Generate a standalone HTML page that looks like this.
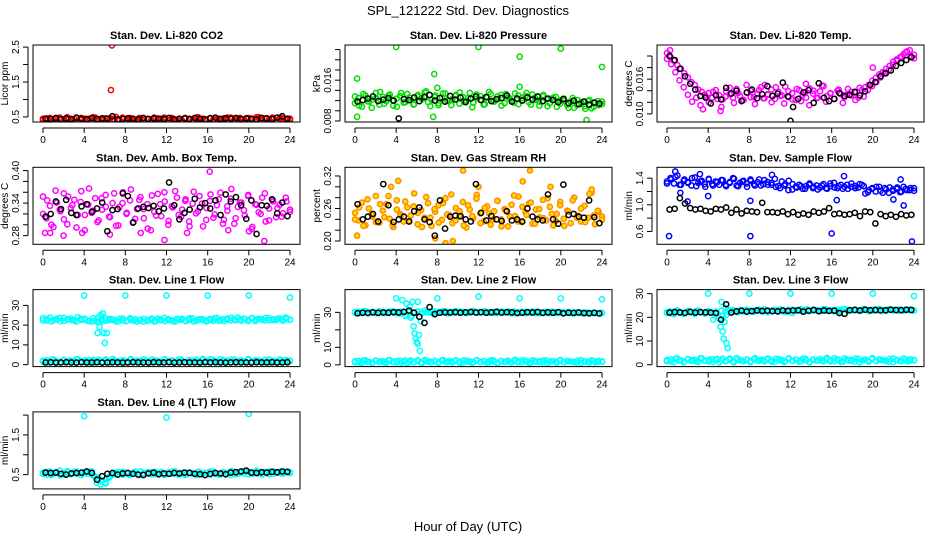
<!DOCTYPE html>
<html><head><meta charset="utf-8"><style>
html,body{margin:0;padding:0;background:#fff;}
svg{display:block;font-family:"Liberation Sans",Arial,sans-serif;}
</style></head><body>
<svg id="chart" width="936" height="540" viewBox="0 0 936 540" xmlns="http://www.w3.org/2000/svg">
<text x="468" y="15" text-anchor="middle" font-size="13">SPL_121222  Std. Dev. Diagnostics</text>
<text x="468" y="531" text-anchor="middle" font-size="13">Hour of Day (UTC)</text>
</svg>
<script>
// ---- data ----
const hourTicks = [0,4,8,12,16,20,24];
const co2Band = [0.45,0.40,0.47,0.42,0.38,0.46,0.43,0.49,0.41,0.44,0.39,0.47,0.42,0.45,0.40,0.48,0.43,0.41,0.46,0.39,0.44,0.50,0.42,0.45,0.38,0.47,0.43,0.40,0.46,0.42,0.44,0.39,0.48,0.41,0.45,0.43,0.40,0.47,0.42,0.44,0.39,0.46,0.43,0.41,0.48,0.42,0.45,0.40,0.47,0.43,0.44,0.39,0.46,0.42,0.48,0.41,0.45,0.43,0.40,0.47,0.44,0.42,0.49,0.41,0.45,0.43,0.48,0.40,0.46,0.44,0.42,0.45];
const co2Band2 = [0.41,0.46,0.38,0.44,0.48,0.40,0.43,0.37,0.47,0.42,0.45,0.39,0.49,0.41,0.44,0.38,0.46,0.43,0.40,0.48,0.42,0.45,0.37,0.47,0.41,0.44,0.39,0.46,0.43,0.48,0.40,0.45,0.42,0.38,0.47,0.44,0.41,0.49,0.43,0.39,0.46,0.42,0.45,0.40,0.48,0.44,0.41,0.47,0.38,0.45,0.43,0.49,0.40,0.46,0.42,0.44,0.39,0.47,0.43,0.41];
const co2Black = [0.45,0.44,0.47,0.43,0.46,0.44,0.48,0.45,0.43,0.47,0.44,0.46,0.45,0.52,0.43,0.44,0.46,0.45,0.43,0.47,0.44,0.46,0.45,0.44,0.47,0.43,0.45,0.46,0.44,0.47,0.45,0.43,0.46,0.48,0.44,0.46,0.45,0.47,0.44,0.46,0.45,0.43,0.47,0.46,0.44,0.48,0.52,0.45];
const co2Out = [[6.7,2.55],[6.6,1.27]];
const presBand = [0.0115,0.0125,0.0108,0.0130,0.0118,0.0122,0.0135,0.0112,0.0127,0.0119,0.0132,0.0110,0.0124,0.0129,0.0116,0.0133,0.0121,0.0113,0.0128,0.0125,0.0136,0.0117,0.0122,0.0130,0.0111,0.0126,0.0134,0.0119,0.0123,0.0131,0.0114,0.0127,0.0120,0.0135,0.0116,0.0124,0.0129,0.0112,0.0126,0.0133,0.0118,0.0122,0.0131,0.0115,0.0127,0.0120,0.0134,0.0113,0.0125,0.0129,0.0117,0.0132,0.0121,0.0110,0.0128,0.0123,0.0115,0.0126,0.0108,0.0120,0.0124,0.0112,0.0118,0.0106,0.0121,0.0114,0.0109,0.0119,0.0105,0.0116,0.0111,0.0118];
const presBand2 = [0.0128,0.0110,0.0133,0.0119,0.0106,0.0124,0.0137,0.0114,0.0130,0.0121,0.0108,0.0135,0.0117,0.0126,0.0112,0.0131,0.0123,0.0138,0.0109,0.0127,0.0115,0.0134,0.0120,0.0111,0.0129,0.0136,0.0118,0.0125,0.0107,0.0132,0.0122,0.0113,0.0137,0.0119,0.0128,0.0110,0.0133,0.0124,0.0116,0.0130,0.0121,0.0135,0.0112,0.0126,0.0118,0.0131,0.0109,0.0123,0.0127,0.0114,0.0120,0.0106,0.0125,0.0111,0.0117,0.0104,0.0121,0.0108,0.0119,0.0113];
const presBlack = [0.0118,0.0121,0.0124,0.0128,0.0119,0.0122,0.0125,0.0120,0.0085,0.0123,0.0121,0.0126,0.0119,0.0127,0.0131,0.0120,0.0125,0.0118,0.0129,0.0122,0.0126,0.0117,0.0124,0.0128,0.0121,0.0127,0.0119,0.0123,0.0125,0.0130,0.0118,0.0124,0.0120,0.0126,0.0122,0.0128,0.0119,0.0124,0.0121,0.0117,0.0123,0.0115,0.0120,0.0113,0.0118,0.0112,0.0116,0.0114];
const presOut = [[0.2,0.0163],[0.2,0.0088],[4,0.0225],[7.7,0.0172],[8,0.0145],[7.6,0.0088],[12,0.0225],[16,0.0206],[16,0.0147],[20,0.0222],[22.5,0.0082],[24,0.0186]];
const tempBand = [0.0205,0.0198,0.0192,0.0184,0.0178,0.0170,0.0163,0.0155,0.0150,0.0142,0.0138,0.0130,0.0136,0.0128,0.0141,0.0132,0.0125,0.0139,0.0134,0.0128,0.0143,0.0131,0.0124,0.0137,0.0140,0.0129,0.0135,0.0146,0.0127,0.0133,0.0142,0.0126,0.0138,0.0132,0.0147,0.0129,0.0136,0.0124,0.0141,0.0133,0.0128,0.0144,0.0135,0.0127,0.0139,0.0148,0.0131,0.0136,0.0126,0.0140,0.0134,0.0129,0.0143,0.0132,0.0137,0.0128,0.0141,0.0146,0.0150,0.0157,0.0162,0.0168,0.0172,0.0178,0.0183,0.0190,0.0194,0.0198,0.0203,0.0208,0.0200,0.0196];
const tempBand2 = [0.0195,0.0186,0.0172,0.0158,0.0146,0.0133,0.0121,0.0128,0.0115,0.0133,0.0120,0.0138,0.0126,0.0112,0.0130,0.0145,0.0119,0.0136,0.0124,0.0150,0.0129,0.0117,0.0141,0.0127,0.0134,0.0120,0.0146,0.0131,0.0118,0.0139,0.0125,0.0143,0.0122,0.0137,0.0115,0.0140,0.0128,0.0149,0.0121,0.0135,0.0126,0.0142,0.0119,0.0133,0.0138,0.0124,0.0145,0.0130,0.0141,0.0148,0.0155,0.0163,0.0171,0.0176,0.0185,0.0192,0.0199,0.0206,0.0210,0.0202];
const tempBlack = [0.0200,0.0193,0.0178,0.0165,0.0152,0.0142,0.0131,0.0128,0.0118,0.0132,0.0125,0.0145,0.0135,0.0140,0.0122,0.0137,0.0142,0.0127,0.0134,0.0148,0.0131,0.0135,0.0154,0.0130,0.0112,0.0126,0.0137,0.0141,0.0119,0.0153,0.0128,0.0122,0.0126,0.0136,0.0131,0.0133,0.0138,0.0132,0.0139,0.0150,0.0155,0.0165,0.0170,0.0175,0.0183,0.0188,0.0193,0.0198];
const tempOut = [[0.3,0.0210],[3.5,0.0108],[5.2,0.0105],[9.5,0.0150],[13.5,0.0152],[20,0.0180]];
const tempBlackOut = [[12,0.0088]];
const boxBand = [0.352,0.312,0.335,0.296,0.341,0.325,0.358,0.301,0.331,0.346,0.318,0.362,0.290,0.337,0.322,0.349,0.308,0.328,0.355,0.315,0.340,0.298,0.333,0.360,0.320,0.345,0.305,0.329,0.351,0.312,0.338,0.290,0.324,0.357,0.316,0.343,0.300,0.334,0.362,0.318,0.328,0.347,0.306,0.339,0.321,0.353,0.297,0.331,0.344,0.313,0.336,0.359,0.309,0.326,0.348,0.302,0.333,0.341,0.317,0.355,0.292,0.338,0.323,0.350,0.306,0.330,0.346,0.314,0.337,0.321,0.343,0.328];
const boxBand2 = [0.320,0.345,0.300,0.363,0.328,0.310,0.352,0.336,0.295,0.342,0.318,0.367,0.326,0.305,0.349,0.333,0.314,0.358,0.299,0.340,0.322,0.365,0.311,0.346,0.329,0.293,0.354,0.317,0.338,0.360,0.307,0.332,0.350,0.315,0.344,0.297,0.361,0.325,0.339,0.309,0.356,0.319,0.347,0.302,0.334,0.366,0.312,0.341,0.327,0.353,0.296,0.337,0.320,0.358,0.308,0.343,0.331,0.315,0.350,0.324];
const boxBlack = [0.315,0.320,0.343,0.329,0.346,0.322,0.318,0.334,0.338,0.324,0.330,0.341,0.288,0.327,0.329,0.358,0.353,0.304,0.330,0.333,0.331,0.335,0.325,0.330,0.378,0.336,0.310,0.322,0.328,0.348,0.332,0.340,0.330,0.345,0.318,0.356,0.343,0.351,0.336,0.311,0.345,0.283,0.336,0.335,0.347,0.321,0.341,0.316];
const boxOut = [[0.2,0.285],[0.7,0.285],[11.8,0.272],[16.2,0.398],[21.5,0.27],[14,0.285],[3.8,0.285],[9.5,0.285],[18,0.29],[6.5,0.282],[20,0.288],[2,0.28]];
const rhBand = [0.252,0.238,0.271,0.229,0.260,0.245,0.283,0.234,0.256,0.268,0.241,0.226,0.275,0.250,0.236,0.262,0.247,0.288,0.231,0.257,0.243,0.270,0.228,0.254,0.266,0.239,0.279,0.248,0.233,0.261,0.245,0.272,0.225,0.258,0.242,0.285,0.251,0.236,0.264,0.230,0.255,0.274,0.240,0.259,0.227,0.267,0.246,0.282,0.235,0.253,0.269,0.232,0.258,0.244,0.276,0.238,0.263,0.229,0.250,0.272,0.241,0.256,0.233,0.280,0.247,0.236,0.265,0.243,0.289,0.231,0.254,0.245];
const rhBand2 = [0.240,0.262,0.228,0.277,0.249,0.235,0.268,0.244,0.283,0.230,0.258,0.247,0.273,0.237,0.264,0.252,0.226,0.281,0.243,0.259,0.234,0.270,0.249,0.286,0.238,0.255,0.229,0.266,0.246,0.278,0.233,0.261,0.251,0.240,0.274,0.227,0.257,0.245,0.284,0.236,0.263,0.248,0.271,0.232,0.259,0.242,0.279,0.250,0.237,0.266,0.228,0.254,0.275,0.243,0.260,0.235,0.287,0.247,0.256,0.239];
const rhBlack = [0.268,0.240,0.245,0.250,0.236,0.305,0.266,0.235,0.240,0.245,0.236,0.255,0.262,0.240,0.235,0.210,0.275,0.223,0.245,0.247,0.246,0.240,0.236,0.305,0.252,0.238,0.246,0.240,0.237,0.255,0.238,0.240,0.236,0.260,0.245,0.240,0.238,0.286,0.240,0.232,0.304,0.248,0.250,0.245,0.243,0.275,0.244,0.233];
const rhOut = [[0.2,0.21],[4.2,0.311],[8.8,0.196],[10.5,0.33],[17,0.33],[16.3,0.31],[3.5,0.30],[23,0.295],[7.8,0.205],[19,0.30],[9.5,0.20],[12,0.30]];
const sampleBand = [1.35,1.40,1.32,1.44,1.30,1.38,1.34,1.29,1.41,1.33,1.36,1.27,1.39,1.31,1.35,1.30,1.37,1.28,1.34,1.40,1.29,1.33,1.36,1.27,1.38,1.31,1.34,1.29,1.37,1.30,1.33,1.39,1.28,1.35,1.31,1.36,1.23,1.27,1.30,1.24,1.28,1.32,1.25,1.29,1.26,1.31,1.24,1.28,1.33,1.25,1.30,1.27,1.24,1.32,1.28,1.26,1.30,1.17,1.22,1.25,1.20,1.27,1.18,1.23,1.26,1.21,1.24,1.19,1.27,1.22,1.25,1.21];
const sampleBand2 = [1.32,1.38,1.42,1.30,1.36,1.33,1.40,1.28,1.35,1.31,1.38,1.29,1.34,1.37,1.30,1.33,1.39,1.28,1.35,1.32,1.36,1.29,1.38,1.31,1.34,1.30,1.27,1.25,1.29,1.22,1.31,1.26,1.28,1.24,1.30,1.27,1.23,1.29,1.25,1.32,1.26,1.28,1.24,1.30,1.27,1.25,1.31,1.28,1.19,1.24,1.27,1.21,1.25,1.18,1.23,1.26,1.20,1.24,1.22,1.25];
const sampleBlack = [0.93,0.94,1.10,1.02,0.95,0.93,0.94,0.91,0.90,0.94,0.93,0.96,0.88,0.93,0.87,0.91,0.90,0.89,1.03,0.89,0.89,0.88,0.90,0.86,0.89,0.85,0.87,0.85,0.90,0.88,0.90,0.95,0.86,0.87,0.85,0.86,0.88,0.83,0.90,0.89,0.72,0.86,0.83,0.85,0.82,0.86,0.84,0.85];
const sampleOut = [[0.2,0.53],[0.8,1.5],[1.3,1.18],[2,1.05],[4,1.13],[8.1,0.53],[8.1,1.06],[16,0.57],[16.5,1.07],[23.8,0.45],[22.7,1.38],[23,0.99],[22,1.08],[10.2,1.45],[17.2,1.43],[3.2,1.46]];
const lowFlowBand = [1.5,2.2,1.1,2.6,1.8,1.3,2.4,1.6,2.0,1.2,2.7,1.7,1.4,2.3,1.9,1.0,2.5,1.6,2.1,1.3,2.8,1.8,1.5,2.2,1.1,2.4,1.7,2.0,1.4,2.6,1.8,1.2,2.3,1.9,1.5,2.7,1.6,2.1,1.3,2.5,1.8,1.0,2.2,1.7,2.4,1.4,2.9,1.9,1.5,2.3,1.2,2.6,1.8,2.0,1.4,2.5,1.7,2.1,1.3,2.8,1.6,2.2,1.9,1.5,2.4,1.1,2.0,1.7,2.6,1.4,2.3,1.8];
const lowFlowBand2 = [2.0,1.3,2.5,1.7,1.1,2.2,1.9,1.4,2.7,1.6,2.1,1.2,2.4,1.8,1.5,2.6,1.0,2.3,1.7,2.0,1.4,2.8,1.6,1.9,2.2,1.3,2.5,1.8,1.1,2.4,1.7,2.0,1.5,2.6,1.2,2.1,1.9,1.6,2.3,1.4,2.7,1.8,1.3,2.2,1.6,2.5,1.0,2.0,1.7,2.4,1.5,2.1,1.8,1.3,2.6,1.9,1.4,2.2,1.6,2.0];
const line1Band = [23.5,22.2,23.8,22.6,23.1,22.0,23.6,22.8,23.3,22.4,24.0,22.7,23.2,22.1,21.8,22.3,21.6,22.0,23.4,22.5,22.9,21.9,23.2,22.4,22.0,23.5,22.3,21.8,22.7,23.1,22.2,22.6,21.9,23.3,22.5,22.1,23.0,22.4,21.8,22.8,23.2,22.0,22.6,23.4,22.2,22.9,22.5,21.9,23.1,22.3,23.6,22.7,22.0,23.3,22.5,22.9,23.8,22.2,23.0,22.6,23.5,22.1,23.2,22.8,23.7,22.4,23.0,22.6,23.4,22.2,23.1,22.8];
const line1Band2 = [22.4,23.2,21.9,22.8,23.6,22.1,23.0,22.5,21.8,23.3,22.7,22.2,23.5,21.7,22.9,22.3,23.1,22.6,21.9,23.4,22.2,22.8,23.0,22.4,21.8,22.6,23.3,22.1,22.9,23.6,22.5,22.0,23.2,22.7,22.3,23.5,21.9,22.8,23.1,22.4,22.6,23.4,22.2,23.0,22.7,23.7,22.5,22.9,23.3,22.1,23.6,22.8,23.0,22.4,23.5,22.6,23.2,22.9,23.8,22.7];
const line1Black = [1.1,1.2,1.0,1.1,1.2,1.1,1.0,1.2,1.1,1.1,1.2,1.0,1.1,1.2,1.1,1.0,1.1,1.2,1.1,1.1,1.0,1.2,1.1,1.1,1.2,1.0,1.1,1.2,1.1,1.1,1.0,1.2,1.1,1.2,1.1,1.0,1.1,1.2,1.1,1.1,1.0,1.2,1.1,1.1,1.2,1.0,1.1,1.2];
const line1Out = [[4,35],[8,35],[12,35],[16,35],[20,35],[24,34],[5.3,16],[5.5,19],[5.6,25],[5.8,26],[5.9,16],[6.0,11],[6.2,16],[5.7,22],[5.4,24]];
const line2Band = [29.8,30.4,29.5,30.8,29.9,30.2,29.6,30.6,30.0,29.7,30.5,29.9,30.3,29.4,30.1,28.5,27.0,29.8,30.4,29.6,30.9,30.0,29.7,30.5,29.9,30.2,30.6,29.5,30.1,30.7,29.8,30.3,29.6,30.0,30.8,29.7,30.2,30.5,29.9,30.1,29.6,30.4,30.0,29.8,30.6,29.5,30.2,29.9,30.3,29.7,30.0,30.5,29.6,30.1,29.8,30.4,29.5,30.0,29.9,30.2,29.6,30.1,29.8,29.5,30.0,29.7,29.4,29.9,29.6,29.8,29.5,29.7];
const line2Band2 = [30.2,29.6,30.5,29.9,30.0,29.7,30.4,30.1,29.8,30.6,29.5,30.3,28.0,30.2,29.9,30.5,29.7,30.1,30.4,29.8,30.0,30.7,29.6,30.2,29.9,30.5,30.1,29.7,30.3,30.0,29.8,30.6,29.9,30.2,29.6,30.4,30.1,29.8,30.5,29.7,30.0,30.3,29.9,30.2,29.5,30.1,29.8,30.4,29.6,30.0,29.7,30.2,29.5,29.9,29.6,30.0,29.4,29.8,29.5,29.7];
const line2Black = [29.5,29.8,29.6,30.0,29.7,29.9,29.8,30.1,29.9,30.3,31.0,29.8,27.5,24.0,33.0,29.0,29.8,30.0,29.9,30.1,29.8,30.0,30.2,29.9,30.1,29.8,30.0,30.3,29.9,30.1,30.0,29.6,29.8,30.1,29.9,30.2,29.7,30.0,29.8,30.1,29.5,29.8,29.7,29.9,29.6,29.5,29.7,29.4];
const line2Out = [[4,38],[8,38],[12,39],[16,38],[20,38],[24,37.5],[4.6,37],[5,35],[5.3,33],[5.5,28],[5.7,22],[5.8,18],[5.9,15],[6.0,13],[6.1,12],[6.2,17],[6.3,8],[6.4,25],[5.6,36],[6.1,36],[5.2,31]];
const line3Band = [21.8,22.5,21.4,22.9,22.0,21.6,22.7,22.2,21.5,22.8,22.1,21.7,22.6,21.9,22.4,19.5,20.5,21.0,22.6,23.1,22.3,22.9,22.5,23.2,22.7,22.4,23.0,22.6,23.3,22.2,22.8,23.1,22.5,22.9,22.3,23.2,21.8,22.7,23.0,22.4,23.3,22.6,22.9,23.1,22.5,23.4,22.8,23.0,22.6,23.2,22.9,23.5,22.7,23.1,23.3,22.8,23.0,23.4,22.6,23.2,22.9,23.5,23.0,22.7,23.3,22.9,23.1,23.4,22.8,23.2,23.0,22.9];
const line3Band2 = [22.2,21.7,22.6,22.0,21.5,22.4,21.9,22.7,22.1,21.6,22.3,19.0,21.5,22.8,22.4,23.0,22.6,22.2,22.9,23.1,22.5,22.8,23.2,22.4,22.9,22.6,23.0,23.3,22.7,22.5,23.1,22.8,23.4,22.6,22.9,23.2,22.7,23.0,23.3,22.8,23.1,22.6,23.4,22.9,23.0,23.2,22.7,23.5,23.1,22.8,23.3,23.0,22.9,23.4,23.1,22.8,23.2,23.0,23.3,22.9];
const line3Black = [22.0,22.2,22.1,21.9,22.3,22.0,22.2,22.1,22.0,21.8,19.0,25.5,22.0,22.5,22.8,22.4,22.6,22.9,22.7,22.8,22.6,22.5,22.9,22.7,22.9,23.0,22.4,22.8,23.1,22.6,22.9,22.7,22.8,21.8,21.5,23.0,23.1,22.9,23.2,23.0,23.1,22.9,23.0,23.2,23.1,23.0,23.2,23.1];
const line3Out = [[4,30],[8,30],[12,30],[16,30],[20,30],[24,29],[5.2,16],[5.4,14],[5.5,11],[5.6,18],[5.8,9],[5.9,7],[5.7,24],[5.3,26.5]];
const line4Band = [0.55,0.50,0.58,0.52,0.56,0.48,0.54,0.59,0.51,0.57,0.53,0.49,0.56,0.52,0.58,0.45,0.40,0.35,0.30,0.42,0.50,0.55,0.51,0.57,0.53,0.49,0.55,0.52,0.58,0.50,0.54,0.56,0.51,0.53,0.57,0.49,0.55,0.52,0.58,0.50,0.54,0.51,0.56,0.53,0.49,0.57,0.52,0.55,0.50,0.58,0.53,0.51,0.56,0.54,0.49,0.57,0.52,0.55,0.59,0.51,0.54,0.57,0.53,0.50,0.56,0.58,0.52,0.55,0.57,0.53,0.56,0.54];
const line4Band2 = [0.52,0.57,0.49,0.55,0.60,0.51,0.56,0.53,0.58,0.50,0.54,0.57,0.48,0.42,0.33,0.38,0.46,0.53,0.57,0.50,0.55,0.52,0.58,0.49,0.54,0.56,0.51,0.57,0.53,0.50,0.55,0.58,0.52,0.54,0.49,0.56,0.53,0.57,0.51,0.55,0.58,0.52,0.50,0.56,0.54,0.59,0.51,0.55,0.53,0.57,0.52,0.60,0.54,0.56,0.51,0.58,0.55,0.53,0.57,0.56];
const line4Black = [0.55,0.54,0.55,0.52,0.50,0.53,0.54,0.55,0.58,0.54,0.37,0.46,0.52,0.54,0.50,0.53,0.54,0.52,0.50,0.49,0.53,0.55,0.51,0.53,0.52,0.54,0.53,0.55,0.54,0.52,0.51,0.49,0.52,0.54,0.53,0.51,0.55,0.56,0.58,0.60,0.55,0.54,0.56,0.55,0.57,0.56,0.58,0.57];
const line4Out = [[4,1.97],[12,1.94],[20,2.03],[5.2,0.30],[5.6,0.25],[6.1,0.28]];

// ---- drawing ----
const NS = "http://www.w3.org/2000/svg";
const svg = document.getElementById("chart");
function mk(tag, attrs, parent) {
  const e = document.createElementNS(NS, tag);
  for (const k in attrs) e.setAttribute(k, attrs[k]);
  (parent || svg).appendChild(e);
  return e;
}
function panel(cfg) {
  const left = 312 * cfg.col + 33, right = 312 * cfg.col + 300;
  const top = 45 + 122.3 * cfg.row, bottom = top + 77;
  const xs = h => (left + 10) + h * (247 / 24);
  const ys = v => bottom - (v - cfg.ymin) / (cfg.ymax - cfg.ymin) * (bottom - top);
  const g = mk("g", {});
  
  
  const t = mk("text", {x: (left + right) / 2, y: top - 6, "text-anchor": "middle", "font-size": "11", "font-weight": "bold"}, g);
  
  
  t.textContent = cfg.title;
  const xa = mk("g", {}, g);
  
  
  mk("line", {x1: xs(0), x2: xs(24), y1: bottom + 6, y2: bottom + 6, stroke: "#000"}, xa);
  hourTicks.forEach(h => {
    mk("line", {x1: xs(h), x2: xs(h), y1: bottom + 6, y2: bottom + 11, stroke: "#000"}, xa);
    const l = mk("text", {x: xs(h), y: bottom + 21, "text-anchor": "middle", "font-size": "10"}, xa);
    
    
    l.textContent = h;
  });
  const ya = mk("g", {}, g);
  
  
  mk("line", {x1: left - 5, x2: left - 5, y1: ys(cfg.ticks[0]), y2: ys(cfg.ticks[cfg.ticks.length - 1]), stroke: "#000"}, ya);
  cfg.ticks.forEach(v => {
    mk("line", {x1: left - 10, x2: left - 5, y1: ys(v), y2: ys(v), stroke: "#000"}, ya);
  });
  cfg.labels.forEach(v => {
    const y = ys(v);
    const l = mk("text", {x: left - 14, y: y, "text-anchor": "middle", "font-size": "10", transform: `rotate(-90 ${left - 14} ${y})`}, ya);
    
    
    l.textContent = cfg.fmt(v);
  });
  const yt = mk("text", {x: left - 25, y: (top + bottom) / 2, "text-anchor": "middle", "font-size": "10", transform: `rotate(-90 ${left - 25} ${(top + bottom) / 2})`}, g);
  
  
  yt.textContent = cfg.ylab;
  const clipId = "clip" + cfg.row + cfg.col;
  const cp = mk("clipPath", {id: clipId}, g);
  mk("rect", {x: left, y: top, width: right - left, height: bottom - top}, cp);
  const pts = mk("g", {"clip-path": `url(#${clipId})`}, g);
  
  
  function dot(h, v, color, fill) {
    const c = mk("circle", {cx: xs(h), cy: ys(v), r: 2.6, fill: fill || "none", stroke: color, "stroke-width": 1.5}, pts);
    
    
  }
  cfg.bands.forEach(b => b.forEach((v, i) => dot(i * 24 / (b.length - 1), v, cfg.color, cfg.fill)));
  cfg.out.forEach(p => dot(p[0], p[1], cfg.color, cfg.fill));
  cfg.black.forEach((v, i) => dot(0.25 + i * 0.5, v, "#000"));
  (cfg.blackOut || []).forEach(p => dot(p[0], p[1], "#000"));
  const box = mk("rect", {x: left, y: top, width: right - left, height: bottom - top, fill: "none", stroke: "#000"}, g);
  
  
}
const f1 = v => v.toFixed(1), f2 = v => v.toFixed(2), f3 = v => v.toFixed(3), f0 = v => String(v);
panel({row:0,col:0,name:"panel-co2",title:"Stan. Dev. Li-820 CO2",ylab:"Licor ppm",ymin:0.355,ymax:2.56,ticks:[0.5,1,1.5,2,2.5],labels:[0.5,1.5,2.5],fmt:f1,color:"#ff0000",bands:[co2Band,co2Band2],out:co2Out,black:co2Black});
panel({row:0,col:1,name:"panel-pressure",title:"Stan. Dev. Li-820 Pressure",ylab:"kPa",ymin:0.0078,ymax:0.0229,ticks:[0.008,0.010,0.012,0.014,0.016,0.018,0.020,0.022],labels:[0.008,0.016],fmt:f3,color:"#00dd00",bands:[presBand,presBand2],out:presOut,black:presBlack});
panel({row:0,col:2,name:"panel-li820-temp",title:"Stan. Dev. Li-820 Temp.",ylab:"degrees C",ymin:0.0086,ymax:0.0219,ticks:[0.010,0.012,0.014,0.016,0.018,0.020],labels:[0.010,0.016],fmt:f3,color:"#ff00ff",bands:[tempBand,tempBand2],out:tempOut,black:tempBlack,blackOut:tempBlackOut});
panel({row:1,col:0,name:"panel-box-temp",title:"Stan. Dev. Amb. Box Temp.",ylab:"degrees C",ymin:0.264,ymax:0.406,ticks:[0.28,0.30,0.32,0.34,0.36,0.38,0.40],labels:[0.28,0.34,0.40],fmt:f2,color:"#ff00ff",bands:[boxBand,boxBand2],out:boxOut,black:boxBlack});
panel({row:1,col:1,name:"panel-rh",title:"Stan. Dev. Gas Stream RH",ylab:"percent",ymin:0.194,ymax:0.336,ticks:[0.20,0.22,0.24,0.26,0.28,0.30,0.32],labels:[0.20,0.26,0.32],fmt:f2,color:"#ff8c00",fill:"#ffdd00",bands:[rhBand,rhBand2],out:rhOut,black:rhBlack});
panel({row:1,col:2,name:"panel-sample-flow",title:"Stan. Dev. Sample Flow",ylab:"ml/min",ymin:0.407,ymax:1.563,ticks:[0.6,0.8,1.0,1.2,1.4],labels:[0.6,1.0,1.4],fmt:f1,color:"#0000ff",bands:[sampleBand,sampleBand2],out:sampleOut,black:sampleBlack});
panel({row:2,col:0,name:"panel-line1-flow",title:"Stan. Dev. Line 1 Flow",ylab:"ml/min",ymin:-1,ymax:38,ticks:[0,10,20,30],labels:[0,10,20,30],fmt:f0,color:"#00ffff",bands:[line1Band,line1Band2,lowFlowBand,lowFlowBand2],out:line1Out,black:line1Black});
panel({row:2,col:1,name:"panel-line2-flow",title:"Stan. Dev. Line 2 Flow",ylab:"ml/min",ymin:-1,ymax:43,ticks:[0,10,20,30],labels:[0,10,30],fmt:f0,color:"#00ffff",bands:[line2Band,line2Band2,lowFlowBand,lowFlowBand2],out:line2Out,black:line2Black});
panel({row:2,col:2,name:"panel-line3-flow",title:"Stan. Dev. Line 3 Flow",ylab:"ml/min",ymin:-0.8,ymax:31.7,ticks:[0,10,20,30],labels:[0,10,20,30],fmt:f0,color:"#00ffff",bands:[line3Band,line3Band2,lowFlowBand,lowFlowBand2],out:line3Out,black:line3Black});
panel({row:3,col:0,name:"panel-line4-flow",title:"Stan. Dev. Line 4 (LT) Flow",ylab:"ml/min",ymin:0.14,ymax:2.08,ticks:[0.5,1.0,1.5,2.0],labels:[0.5,1.5],fmt:f1,color:"#00ffff",bands:[line4Band,line4Band2],out:line4Out,black:line4Black});
</script>
</body></html>
